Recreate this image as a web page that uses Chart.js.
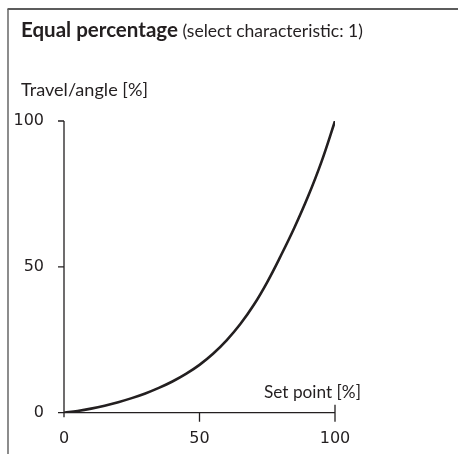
<!DOCTYPE html>
<html>
<head>
<meta charset="utf-8">
<style>
  html, body { margin: 0; padding: 0; background: #fff; }
  #wrap { width: 458px; height: 454px; position: relative; }
</style>
<script src="https://cdn.jsdelivr.net/npm/chart.js@4.4.1/dist/chart.umd.min.js"></script>
</head>
<body>
<div id="wrap"><canvas id="c" width="458" height="454"></canvas></div>
<script>
// Set point [%] (x) and resulting travel/angle [%] (y), equal percentage characteristic
const setPoint = [0, 5, 10, 15, 20, 25, 30, 35, 40, 45, 50, 55, 60, 65, 70, 75, 80, 85, 90, 95, 100];
const travel   = [0, 0.6, 1.4, 2.4, 3.6, 5.0, 6.6, 8.5, 10.7, 13.3, 16.4, 20.2, 24.8, 30.3, 36.9, 44.8, 53.8, 63.4, 74.0, 86.0, 100];
const xTicks = [0, 50, 100];
const yTicks = [0, 50, 100];

const titleBold = 'Equal percentage';
const titleRest = ' (select characteristic: 1)';
const yTitle = 'Travel/angle [%]';
const xTitle = 'Set point [%]';

const TEXT_FAMILY = 'Lato, "DejaVu Sans", sans-serif';
const TICK_FAMILY = '"DejaVu Sans", sans-serif';
const INK = '#231f20';

// pick a font size so that a text spans the given width
function fitSize(ctx, text, weight, width) {
  ctx.font = weight + ' 100px ' + TEXT_FAMILY;
  return 100 * width / ctx.measureText(text).width;
}

const frameAndLabels = {
  id: 'frameAndLabels',
  afterDraw(chart) {
    const ctx = chart.ctx;
    const xs = chart.scales.x, ys = chart.scales.y;
    ctx.save();

    // outer frame (top and left edges)
    ctx.strokeStyle = '#5c5c5c';
    ctx.lineWidth = 2;
    ctx.beginPath(); ctx.moveTo(7.5, 9); ctx.lineTo(458, 9); ctx.stroke();
    ctx.lineWidth = 1.4;
    ctx.beginPath(); ctx.moveTo(8, 9); ctx.lineTo(8, 454); ctx.stroke();

    // axes with tick marks
    ctx.strokeStyle = INK;
    ctx.lineWidth = 1.3;
    const x0 = xs.getPixelForValue(0), y0 = ys.getPixelForValue(0);
    const yTop = ys.getPixelForValue(100), xEnd = xs.getPixelForValue(100);
    ctx.beginPath();
    ctx.moveTo(x0, yTop); ctx.lineTo(x0, y0 + 4.5);
    ctx.moveTo(x0 - 6, y0); ctx.lineTo(xEnd, y0);
    yTicks.forEach(v => {
      const p = ys.getPixelForValue(v);
      ctx.moveTo(x0 - 6, p); ctx.lineTo(x0, p);
    });
    xTicks.forEach(v => {
      if (v === 0) return;
      const p = xs.getPixelForValue(v);
      ctx.moveTo(p, y0 + 9); ctx.lineTo(p, v === 100 ? y0 - 8 : y0);
    });
    ctx.stroke();

    // texts
    ctx.fillStyle = INK;
    ctx.textBaseline = 'alphabetic';
    ctx.textAlign = 'left';
    const bs = fitSize(ctx, titleBold, 'bold', 157);
    ctx.font = 'bold ' + bs.toFixed(2) + 'px ' + TEXT_FAMILY;
    ctx.fillText(titleBold, 21, 37);
    const bw = ctx.measureText(titleBold).width;
    const rs = fitSize(ctx, titleRest, 'normal', 342 - bw);
    ctx.font = rs.toFixed(2) + 'px ' + TEXT_FAMILY;
    ctx.fillText(titleRest, 21 + bw, 37);

    const ys2 = fitSize(ctx, yTitle, 'normal', 127);
    ctx.font = ys2.toFixed(2) + 'px ' + TEXT_FAMILY;
    ctx.fillText(yTitle, 21, 96);

    const xs2 = fitSize(ctx, xTitle, 'normal', 97);
    ctx.font = xs2.toFixed(2) + 'px ' + TEXT_FAMILY;
    ctx.fillText(xTitle, 264, 398);

    ctx.restore();
  }
};

new Chart(document.getElementById('c'), {
  type: 'line',
  data: {
    datasets: [{
      data: setPoint.map((x, i) => ({ x: x, y: travel[i] })),
      borderColor: INK,
      borderWidth: 2.6,
      pointRadius: 0,
      tension: 0.4,
      fill: false
    }]
  },
  options: {
    responsive: false,
    animation: false,
    events: [],
    layout: { padding: { left: 0, top: 121, right: 123, bottom: 0 } },
    plugins: { legend: { display: false }, tooltip: { enabled: false }, title: { display: false } },
    scales: {
      x: {
        type: 'linear', min: 0, max: 100,
        afterBuildTicks: s => { s.ticks = xTicks.map(v => ({ value: v })); },
        afterFit: s => { s.height = 41.3; },
        grid: { display: false },
        border: { display: false },
        ticks: { color: INK, padding: 9, font: { family: TICK_FAMILY, size: 16 } }
      },
      y: {
        type: 'linear', min: 0, max: 100,
        afterBuildTicks: s => { s.ticks = yTicks.map(v => ({ value: v })); },
        afterFit: s => { s.width = 64; },
        grid: { display: false },
        border: { display: false },
        ticks: { color: INK, padding: 12, font: { family: TICK_FAMILY, size: 16 } }
      }
    }
  },
  plugins: [frameAndLabels]
});
</script>
</body>
</html>
